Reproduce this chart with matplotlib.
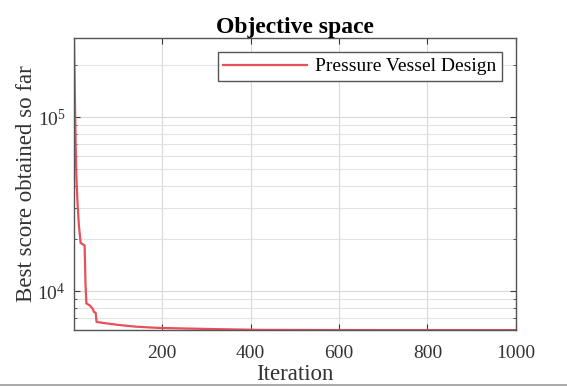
import matplotlib

matplotlib.use("Agg")
import matplotlib.pyplot as plt
from matplotlib.lines import Line2D

# convergence curve: best objective value vs iteration (breakpoints)
iterations = [1, 2, 3, 4, 5, 6, 7, 9, 12, 16, 25, 27, 29, 36, 43, 46, 50, 52,
              70, 100, 140, 190, 250, 320, 420, 600, 1000]
best_score = [285000, 190000, 130000, 90000, 65000, 50000, 42000, 32000, 24000,
              18900, 18300, 11000, 8500, 8300, 7950, 7600, 7500, 6650,
              6550, 6400, 6250, 6150, 6100, 6050, 5990, 5975, 5970]
series_label = "Pressure Vessel Design"
x_ticks = [200, 400, 600, 800, 1000]

plt.rcParams["font.family"] = ["Liberation Serif", "DejaVu Serif"]
plt.rcParams["mathtext.fontset"] = "custom"
plt.rcParams["mathtext.rm"] = "Liberation Serif"
plt.rcParams["mathtext.it"] = "Liberation Serif:italic"
plt.rcParams["mathtext.bf"] = "Liberation Serif:bold"

fig = plt.figure(figsize=(5.67, 3.87), dpi=100)
ax = fig.add_axes([0.1305, 0.147, 0.7795, 0.755])

ax.semilogy(iterations, best_score, color="#e8505a", lw=1.6, label=series_label)
ax.set_xlim(1, 1000)
ax.set_ylim(min(best_score), max(best_score))
ax.set_xticks(x_ticks)

ax.grid(True, which="major", color="#d9d9d9", lw=0.8)
ax.grid(True, which="minor", axis="y", color="#e3e3e3", lw=0.8)
ax.tick_params(which="both", direction="in", top=True, right=True,
               colors="#3a3a3a", labelcolor="#333333", labelsize=14)
ax.tick_params(which="major", length=4, pad=6)
ax.tick_params(axis="x", which="major", pad=11)
ax.tick_params(which="minor", length=2.5)
for s in ax.spines.values():
    s.set_color("#555555")
    s.set_linewidth(1.0)

ax.set_title("Objective space", fontsize=17, fontweight="bold", pad=3)
ax.set_xlabel("Iteration", fontsize=16.5, labelpad=1.5, color="#333333")
ax.set_ylabel("Best score obtained so far", fontsize=16.5, labelpad=0, color="#333333")

leg = ax.legend(loc="upper right", bbox_to_anchor=(0.968, 0.952), borderaxespad=0,
                fontsize=14, handlelength=4.3, fancybox=False, framealpha=1,
                edgecolor="#555555", borderpad=0.3, handletextpad=0.4)
leg.get_frame().set_linewidth(1.0)

# thin rule along the bottom edge
fig.add_artist(Line2D([0, 1], [0.004, 0.004], color="#9a9a9a", lw=1.2,
                      transform=fig.transFigure))

fig.savefig("out.png", dpi=100)
